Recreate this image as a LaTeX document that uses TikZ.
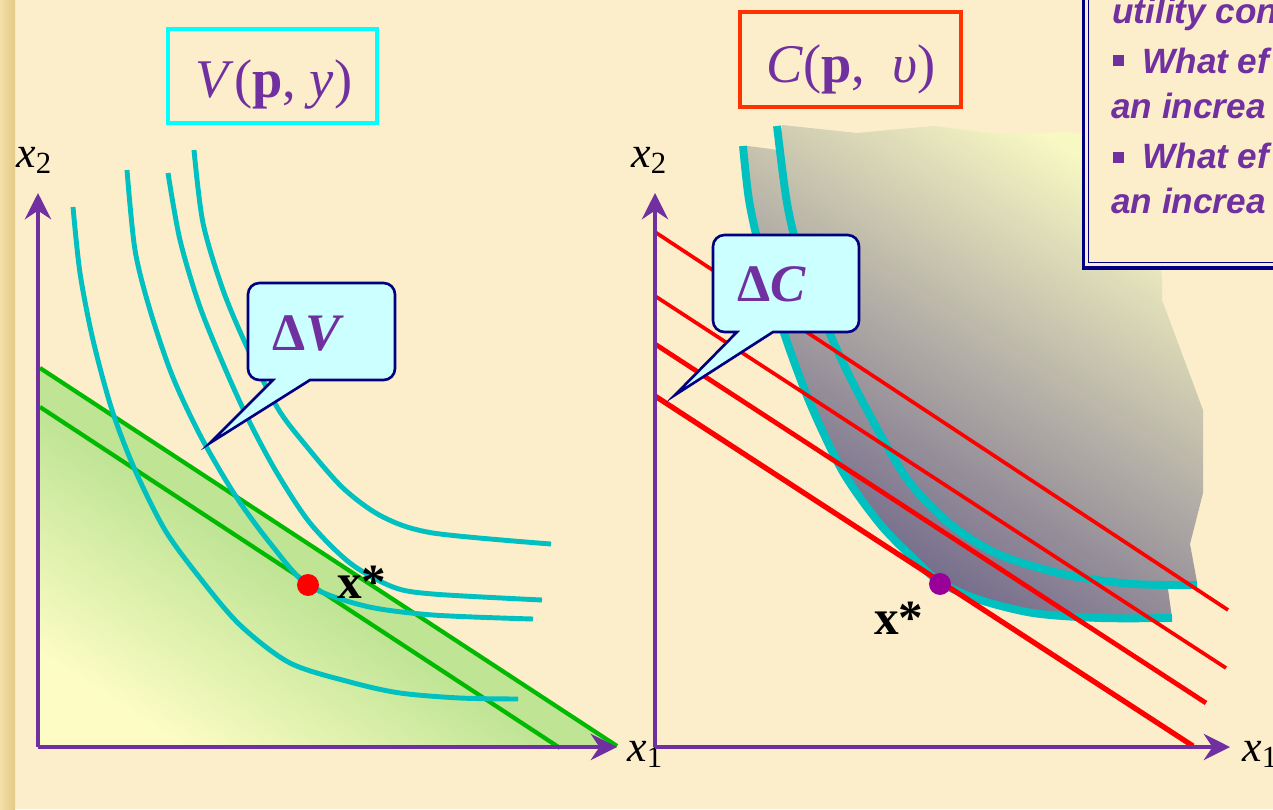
\documentclass[tikz,border=0pt]{standalone}
\usepackage{fontspec}
\setmainfont{Liberation Serif}
\newfontfamily\boxfont{Liberation Sans}
\usetikzlibrary{arrows.meta}

\definecolor{bgcream}{RGB}{252,238,203}
\definecolor{stripgold}{RGB}{228,200,135}
\definecolor{stripgoldlight}{RGB}{244,224,168}
\definecolor{axispurple}{RGB}{112,48,160}
\definecolor{txtpurple}{RGB}{112,48,160}
\definecolor{curvecyan}{RGB}{0,192,192}
\definecolor{boxcyan}{RGB}{0,255,255}
\definecolor{boxorange}{RGB}{255,51,0}
\definecolor{budgetgreen}{RGB}{0,185,0}
\definecolor{bandgreen}{RGB}{190,228,148}
\definecolor{paleyellow}{RGB}{252,252,196}
\definecolor{costdark}{RGB}{105,95,135}
\definecolor{costlight}{RGB}{248,248,195}
\definecolor{calloutfill}{RGB}{204,255,255}
\definecolor{calloutline}{RGB}{0,0,128}
\definecolor{optpurple}{RGB}{153,0,153}

\tikzset{
  axisline/.style={draw=axispurple, line width=1.9pt, -{Stealth[length=15pt,width=15pt,inset=5pt]}},
  icurve/.style={draw=curvecyan, line width=2.8pt},
  icurvethick/.style={draw=curvecyan, line width=4.5pt},
  budget/.style={draw=budgetgreen, line width=2.4pt},
  isocost/.style={draw=red, line width=#1},
  speech/.style={fill=calloutfill, draw=calloutline, line width=1.5pt},
  txt/.style={inner sep=0pt, anchor=base},
  dotmark/.style={circle, inner sep=0pt, minimum size=12.5pt},
  bigfont/.style={font=\fontsize{31}{36}\selectfont, text=txtpurple},
  axfont/.style={font=\fontsize{25}{28}\selectfont},
}

\begin{document}
\begin{tikzpicture}[x=0.02cm, y=-0.02cm]
  \useasboundingbox (0,0) rectangle (1273,809);
  \fill[bgcream] (0,0) rectangle (1273,809);
  \shade[left color=stripgoldlight, right color=stripgold] (0,0) rectangle (15,809);% left strip

  %% ---------------- left panel: V(p, y) ----------------
  \fill[bandgreen] (40,368) -- (617,746) -- (40,748) -- cycle;
  \shade[bottom color=paleyellow, top color=bandgreen, middle color=bandgreen, shading angle=-33] (40,407) -- (560,748) -- (40,748) -- cycle;
  \draw[budget] (40,368) -- (617,746);% outer budget line
  \draw[budget] (40,407) -- (560,748);% inner budget line

  % indifference curves
  \draw[icurve] plot[smooth] coordinates {(73,207) (80,273) (93,340) (112,410) (135,470) (165,530) (200,578) (240,625) (290,663) (350,682) (400,693) (460,698) (518,699)};
  \draw[icurve] plot[smooth] coordinates {(127,170) (135,250) (150,310) (172,375) (200,435) (235,495) (270,543) (308,585) (365,606) (433,615) (533,619)};
  \draw[icurve] plot[smooth] coordinates {(168,173) (180,240) (200,307) (227,373) (250,423) (277,473) (310,523) (350,563) (393,587) (433,594) (542,600)};
  \draw[icurve] plot[smooth] coordinates {(194,150) (203,223) (223,290) (247,347) (277,407) (303,442) (343,488) (383,517) (433,533) (551,544)};

  % axes
  \coordinate (oL) at (38,747);
  \coordinate (yL) at (38,193);
  \coordinate (xL) at (617,747);
  \draw[axisline] (oL) -- (yL);
  \draw[axisline] (oL) -- (xL);
  \node[txt, anchor=base west, axfont] (x2L) at (16,167) {\textit{x}\textsubscript{2}};
  \node[txt, anchor=base west, axfont] (x1L) at (627,761) {\textit{x}\textsubscript{1}};

  \node[dotmark, fill=red] (xoptL) at (308,585) {};
  \node[txt, anchor=base west, font=\fontsize{28}{30}\selectfont] (xstarL) at (337,598) {\textbf{x*}};

  % callout Delta V
  \draw[speech] (310,380) [rounded corners=6.5pt] -- (395,380) -- (395,283) -- (248,283) -- (248,380) [sharp corners] -- (273,380) -- (210,443) -- cycle;
  \node[txt, font=\fontsize{30}{34}\selectfont, text=txtpurple] (dV) at (308,350) {\textbf{Δ\textit{V}}};

  % label box
  \draw[boxcyan, line width=2.3pt] (168,29) rectangle (377,123);
  \node[txt, bigfont] (Vlabel) at (274,97) {\textit{V}(\textbf{p}, \textit{y})};

  %% ---------------- right panel: C(p, v) ----------------
  \shade[bottom color=costdark, top color=costlight, shading angle=-32]
    plot[smooth] coordinates {(743,146) (749,200) (760,250) (783,330) (810,403) (843,472) (880,524) (913,558) (940,582) (977,599) (1033,613) (1100,618) (1172,618)}
    -- (1168,589) -- (1197,582) -- (1190,544) -- (1203,493) -- (1203,410) -- (1162,300) -- (1162,279)
    -- (1150,140) -- (1067,132) -- (1000,134) -- (933,126) -- (857,133) -- (782,125) -- (778,150) -- (748,146) -- cycle;

  \draw[icurvethick] plot[smooth] coordinates {(743,146) (749,200) (760,250) (783,330) (810,403) (843,472) (880,524) (913,558) (940,582) (977,599) (1033,613) (1100,618) (1172,618)};
  \draw[icurvethick] plot[smooth] coordinates {(777,126) (787,203) (800,255) (833,341) (867,410) (907,479) (950,524) (1000,555) (1067,575) (1133,584) (1197,585)};

  % iso-cost lines
  \draw[isocost=2.1pt] (655,232) -- (1228,610);
  \draw[isocost=2.1pt] (655,296) -- (1226,668);
  \draw[isocost=2.7pt] (655,344) -- (1206,703);
  \draw[isocost=3.0pt] (655,396) -- (1193,746);

  % axes
  \coordinate (oR) at (655,747);
  \coordinate (yR) at (655,193);
  \coordinate (xR) at (1230,747);
  \draw[axisline] (oR) -- (yR);
  \draw[axisline] (oR) -- (xR);
  \node[txt, anchor=base west, axfont] (x2R) at (631,167) {\textit{x}\textsubscript{2}};
  \node[txt, anchor=base west, axfont] (x1R) at (1242,761) {\textit{x}\textsubscript{1}};

  \node[dotmark, fill=optpurple] (xoptR) at (940,584) {};
  \node[txt, anchor=base west, font=\fontsize{28}{30}\selectfont] (xstarR) at (874,634) {\textbf{x*}};

  % callout Delta C
  \draw[speech] (773,332) [rounded corners=6.5pt] -- (859,332) -- (859,235) -- (713,235) -- (713,332) [sharp corners] -- (737,332) -- (675,395) -- cycle;
  \node[txt, font=\fontsize{30}{34}\selectfont, text=txtpurple] (dC) at (772,301) {\textbf{Δ\textit{C}}};

  % label box
  \draw[boxorange, line width=2.3pt] (740,12) rectangle (961,107);
  \node[txt, bigfont] (Clabel) at (851,82) {\textit{C}(\textbf{p},~~\textit{υ})};

  %% ---------------- text box, top right ----------------
  \fill[bgcream] (1083,-10) rectangle (1290,269);
  \draw[calloutline, line width=2pt] (1083.5,-10) |- (1290,268);
  \draw[calloutline, line width=1.1pt] (1088.5,-10) |- (1290,262.5);
  \begin{scope}[every node/.style={txt, anchor=base west, text=txtpurple, font=\boxfont\bfseries\itshape\fontsize{20}{24}\selectfont}]
    \node (q0) at (1112,23) {utility con};
    \fill[txtpurple] (1113,55) rectangle (1124,66);
    \node (q1) at (1142,73) {What ef};
    \node (q2) at (1111,118) {an increa};
    \fill[txtpurple] (1113,152) rectangle (1124,163);
    \node (q3) at (1142,168) {What ef};
    \node (q4) at (1111,213) {an increa};
  \end{scope}
\end{tikzpicture}
\end{document}
